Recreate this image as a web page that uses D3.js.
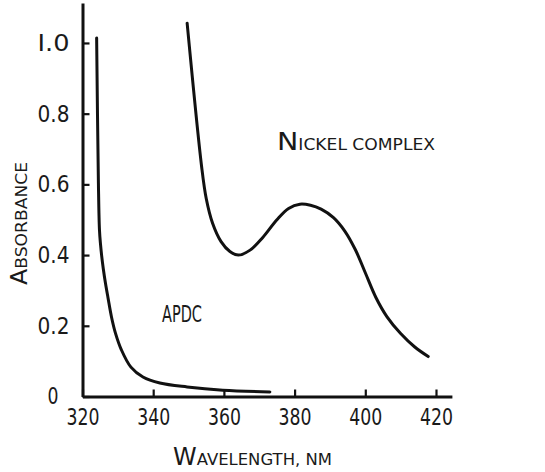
<!DOCTYPE html>
<html>
<head>
<meta charset="utf-8">
<script src="https://cdn.jsdelivr.net/npm/d3@7/dist/d3.min.js"></script>
<style>
  html, body { margin: 0; padding: 0; background: #fff; }
  svg { display: block; }
  text { font-family: "DejaVu Sans", sans-serif; fill: #1a1a1a; }
</style>
</head>
<body>
<svg id="chart" width="545" height="472"></svg>
<script>
// wavelength (nm) / absorbance
var apdcWl  = [324.0, 324.5, 324.8, 325.1, 325.4, 325.9, 326.5, 327.2, 328.2, 329.3, 331.0, 333.7, 337.1, 341.9, 349.6, 359.7, 373.0];
var apdcAbs = [1.014, 0.604, 0.471, 0.430, 0.400, 0.360, 0.320, 0.280, 0.225, 0.180, 0.132, 0.083, 0.055, 0.038, 0.027, 0.018, 0.013];

var nickelWl  = [349.6, 353.7, 355.0, 356.8, 359.2, 361.7, 364.1, 367.4, 371.0, 375.0, 378.3, 381.5, 384.5, 387.5, 391.0, 394.2, 397.2, 400.0, 403.0, 406.1, 410.0, 414.0, 417.8];
var nickelAbs = [1.056, 0.650, 0.560, 0.490, 0.438, 0.410, 0.400, 0.414, 0.450, 0.500, 0.532, 0.544, 0.541, 0.530, 0.506, 0.468, 0.415, 0.350, 0.280, 0.226, 0.178, 0.140, 0.113];

var xTicks = [320, 340, 360, 380, 400, 420];
var xTickLabels = ["320", "340", "360", "380", "400", "420"];
var yTicks = [0, 0.2, 0.4, 0.6, 0.8, 1.0];
var yTickLabels = ["0", "0.2", "0.4", "0.6", "0.8", "I.0"];

var svg = d3.select("#chart");

// 3.535 px per nm, 353.5 px per absorbance unit
var x = d3.scaleLinear().domain([320, 424.5]).range([82.5, 451.9]);
var y = d3.scaleLinear().domain([0, 1.113]).range([396.5, 3]);

function charWidth(s) {
  var w = 0;
  for (var i = 0; i < s.length; i++) w += (s[i] === "." ? 10 : 11);
  return w;
}

var xAxis = svg.append("g")
  .attr("transform", "translate(0," + y(0) + ")")
  .call(d3.axisBottom(x).tickValues(xTicks).tickSize(-7).tickSizeOuter(0).tickPadding(13)
    .tickFormat(function(d, i) { return xTickLabels[i]; }));

var yAxis = svg.append("g")
  .attr("transform", "translate(" + x(320) + ",0)")
  .call(d3.axisLeft(y).tickValues(yTicks).tickSize(-7).tickSizeOuter(0).tickPadding(13)
    .tickFormat(function(d, i) { return yTickLabels[i]; }));

[xAxis, yAxis].forEach(function(g) {
  g.select(".domain").attr("stroke", "#111").attr("stroke-width", 3);
  g.selectAll(".tick line").attr("stroke", "#111").attr("stroke-width", 2.2);
  g.selectAll(".tick text")
    .attr("font-family", "DejaVu Sans, sans-serif")
    .attr("font-size", 23)
    .attr("fill", "#1a1a1a")
    .attr("lengthAdjust", "spacingAndGlyphs")
    .attr("textLength", function() { return charWidth(this.textContent); });
});
xAxis.selectAll(".tick text").attr("dy", "0.71em").attr("y", 12);
yAxis.selectAll(".tick text").filter(function(d) { return d === 0; }).attr("x", -24);

var line = d3.line()
  .x(function(d) { return x(d[0]); })
  .y(function(d) { return y(d[1]); })
  .curve(d3.curveCatmullRom.alpha(0.5));

var apdc = apdcWl.map(function(w, i) { return [w, apdcAbs[i]]; });
var nickel = nickelWl.map(function(w, i) { return [w, nickelAbs[i]]; });

svg.append("path").datum(apdc)
  .attr("d", line).attr("fill", "none").attr("stroke", "#111").attr("stroke-width", 3)
  .attr("stroke-linecap", "round").attr("stroke-linejoin", "round");

svg.append("path").datum(nickel)
  .attr("d", line).attr("fill", "none").attr("stroke", "#111").attr("stroke-width", 3)
  .attr("stroke-linecap", "round").attr("stroke-linejoin", "round");

// small-caps labels: big first letter, small rest
function smallCaps(sel, first, rest, big, small) {
  sel.append("tspan").attr("font-size", big).text(first);
  sel.append("tspan").attr("font-size", small).text(rest);
}

var nick = svg.append("text").attr("x", 277).attr("y", 150)
  .attr("textLength", 158).attr("lengthAdjust", "spacingAndGlyphs");
smallCaps(nick, "N", "ICKEL COMPLEX", 25, 15);

svg.append("text").attr("x", 162).attr("y", 322)
  .attr("font-size", 23).attr("textLength", 40).attr("lengthAdjust", "spacingAndGlyphs")
  .text("APDC");

var xTitle = svg.append("text").attr("x", 173).attr("y", 465)
  .attr("textLength", 159).attr("lengthAdjust", "spacingAndGlyphs");
smallCaps(xTitle, "W", "AVELENGTH, NM", 24, 16.5);

var yTitle = svg.append("text")
  .attr("transform", "translate(27,285) rotate(-90)")
  .attr("textLength", 123).attr("lengthAdjust", "spacingAndGlyphs");
smallCaps(yTitle, "A", "BSORBANCE", 23, 16.5);
</script>
</body>
</html>
